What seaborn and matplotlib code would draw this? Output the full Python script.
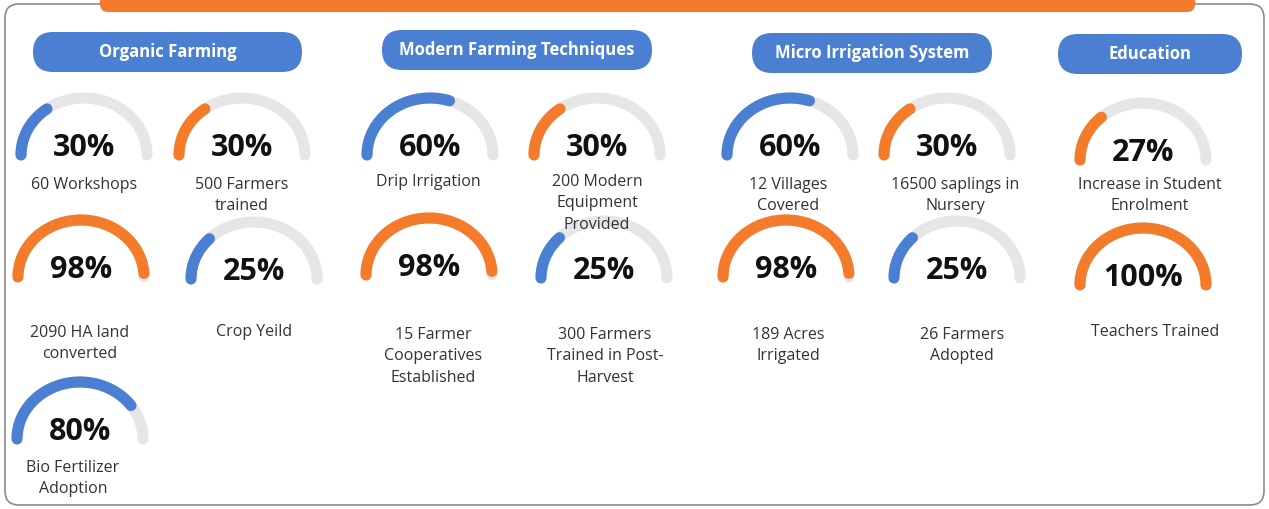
import numpy as np
import pandas as pd
import matplotlib
matplotlib.use("Agg")
import matplotlib.pyplot as plt
from matplotlib.patches import FancyBboxPatch
import seaborn as sns

# ---------------- data ----------------
categories = ["Organic Farming", "Modern Farming Techniques",
              "Micro Irrigation System", "Education"]
gauge_category = [0, 0, 0, 0, 0, 1, 1, 1, 1, 2, 2, 2, 2, 3, 3]
gauge_values = [30, 30, 98, 25, 80, 60, 30, 98, 25, 60, 30, 98, 25, 27, 100]
gauge_labels = [
    "60 Workshops", "500 Farmers\ntrained", "2090 HA land\nconverted",
    "Crop Yeild", "Bio Fertilizer\nAdoption",
    "Drip Irrigation", "200 Modern\nEquipment\nProvided",
    "15 Farmer\nCooperatives\nEstablished", "300 Farmers\nTrained in Post-\nHarvest",
    "12 Villages\nCovered", "16500 saplings in\nNursery",
    "189 Acres\nIrrigated", "26 Farmers\nAdopted",
    "Increase in Student\nEnrolment", "Teachers Trained",
]
gauge_colors = ["blue", "orange", "orange", "blue", "blue",
                "blue", "orange", "orange", "blue",
                "blue", "orange", "orange", "blue",
                "orange", "orange"]

# ---------------- layout (pixels) ----------------
gauge_cx = [84, 242, 81, 254, 80, 430, 597, 429, 604, 790, 947, 786, 957, 1143, 1143]
gauge_base = [155, 155, 277, 279, 439, 155, 155, 275, 278, 155, 155, 277, 278, 160, 285]
label_x = [84, 242, 80, 254, 73, 428, 597, 433, 605, 788, 955, 788, 962, 1150, 1155]
label_y = [183, 183, 331, 330, 466, 180, 180, 333, 333, 183, 183, 333, 333, 183, 330]
pill_boxes = [(33, 32, 269, 40), (382, 30, 270, 40), (752, 33, 240, 40), (1058, 34, 184, 40)]

BLUE = "#4A7FD1"
ORANGE = "#F47B2A"
TRACK = "#E6E6E6"
palette = {"blue": BLUE, "orange": ORANGE}

sns.set_theme(style="white")
plt.rcParams["font.family"] = ["Open Sans", "DejaVu Sans"]

W, H = 1269, 509
fig = plt.figure(figsize=(W / 100, H / 100), dpi=100)
ax = fig.add_axes([0, 0, 1, 1])
ax.set_xlim(0, W)
ax.set_ylim(H, 0)
ax.axis("off")
fig.patch.set_facecolor("white")

# card border and top orange bar
ax.add_patch(FancyBboxPatch((5, 4), 1259, 501,
                            boxstyle="round,pad=0,rounding_size=14",
                            fc="white", ec="#8C8C8C", lw=1.2, zorder=0))
ax.add_patch(FancyBboxPatch((100, -20), 1095, 32,
                            boxstyle="round,pad=0,rounding_size=8",
                            fc=ORANGE, ec="none", zorder=1))

# category pills
for (x, y, w, h), name in zip(pill_boxes, categories):
    ax.add_patch(FancyBboxPatch((x, y), w, h,
                                boxstyle=f"round,pad=0,rounding_size={h/2}",
                                fc=BLUE, ec="none", zorder=2))
    ax.text(x + w / 2, y + h / 2, name, ha="center", va="center",
            color="white", fontsize=12, fontweight="bold", zorder=3)

RX, RY = 63, 57
LW = 8.0
for i, v in enumerate(gauge_values):
    cx, by = gauge_cx[i], gauge_base[i]
    th = np.linspace(np.pi, 0, 200)
    track = pd.DataFrame({"x": cx + RX * np.cos(th), "y": by - RY * np.sin(th)})
    sns.lineplot(data=track, x="x", y="y", sort=False, estimator=None,
                 color=TRACK, linewidth=LW, solid_capstyle="round", ax=ax, zorder=3)
    th2 = np.linspace(np.pi, np.pi * (1 - v / 100), 200)
    arc = pd.DataFrame({"x": cx + RX * np.cos(th2), "y": by - RY * np.sin(th2)})
    sns.lineplot(data=arc, x="x", y="y", sort=False, estimator=None,
                 color=palette[gauge_colors[i]], linewidth=LW,
                 solid_capstyle="round", ax=ax, zorder=4)
    ax.text(cx, by + 1, f"{v}%", ha="center", va="baseline",
            fontsize=22, fontweight="bold", color="#111111", zorder=5)
    ax.text(label_x[i], label_y[i] - 6, gauge_labels[i], ha="center", va="top",
            fontsize=11.5, color="#333333", linespacing=1.45, zorder=5)

ax.set_xlim(0, W)
ax.set_ylim(H, 0)
ax.set_xlabel("")
ax.set_ylabel("")
fig.savefig("out.png", dpi=100, facecolor="white")
